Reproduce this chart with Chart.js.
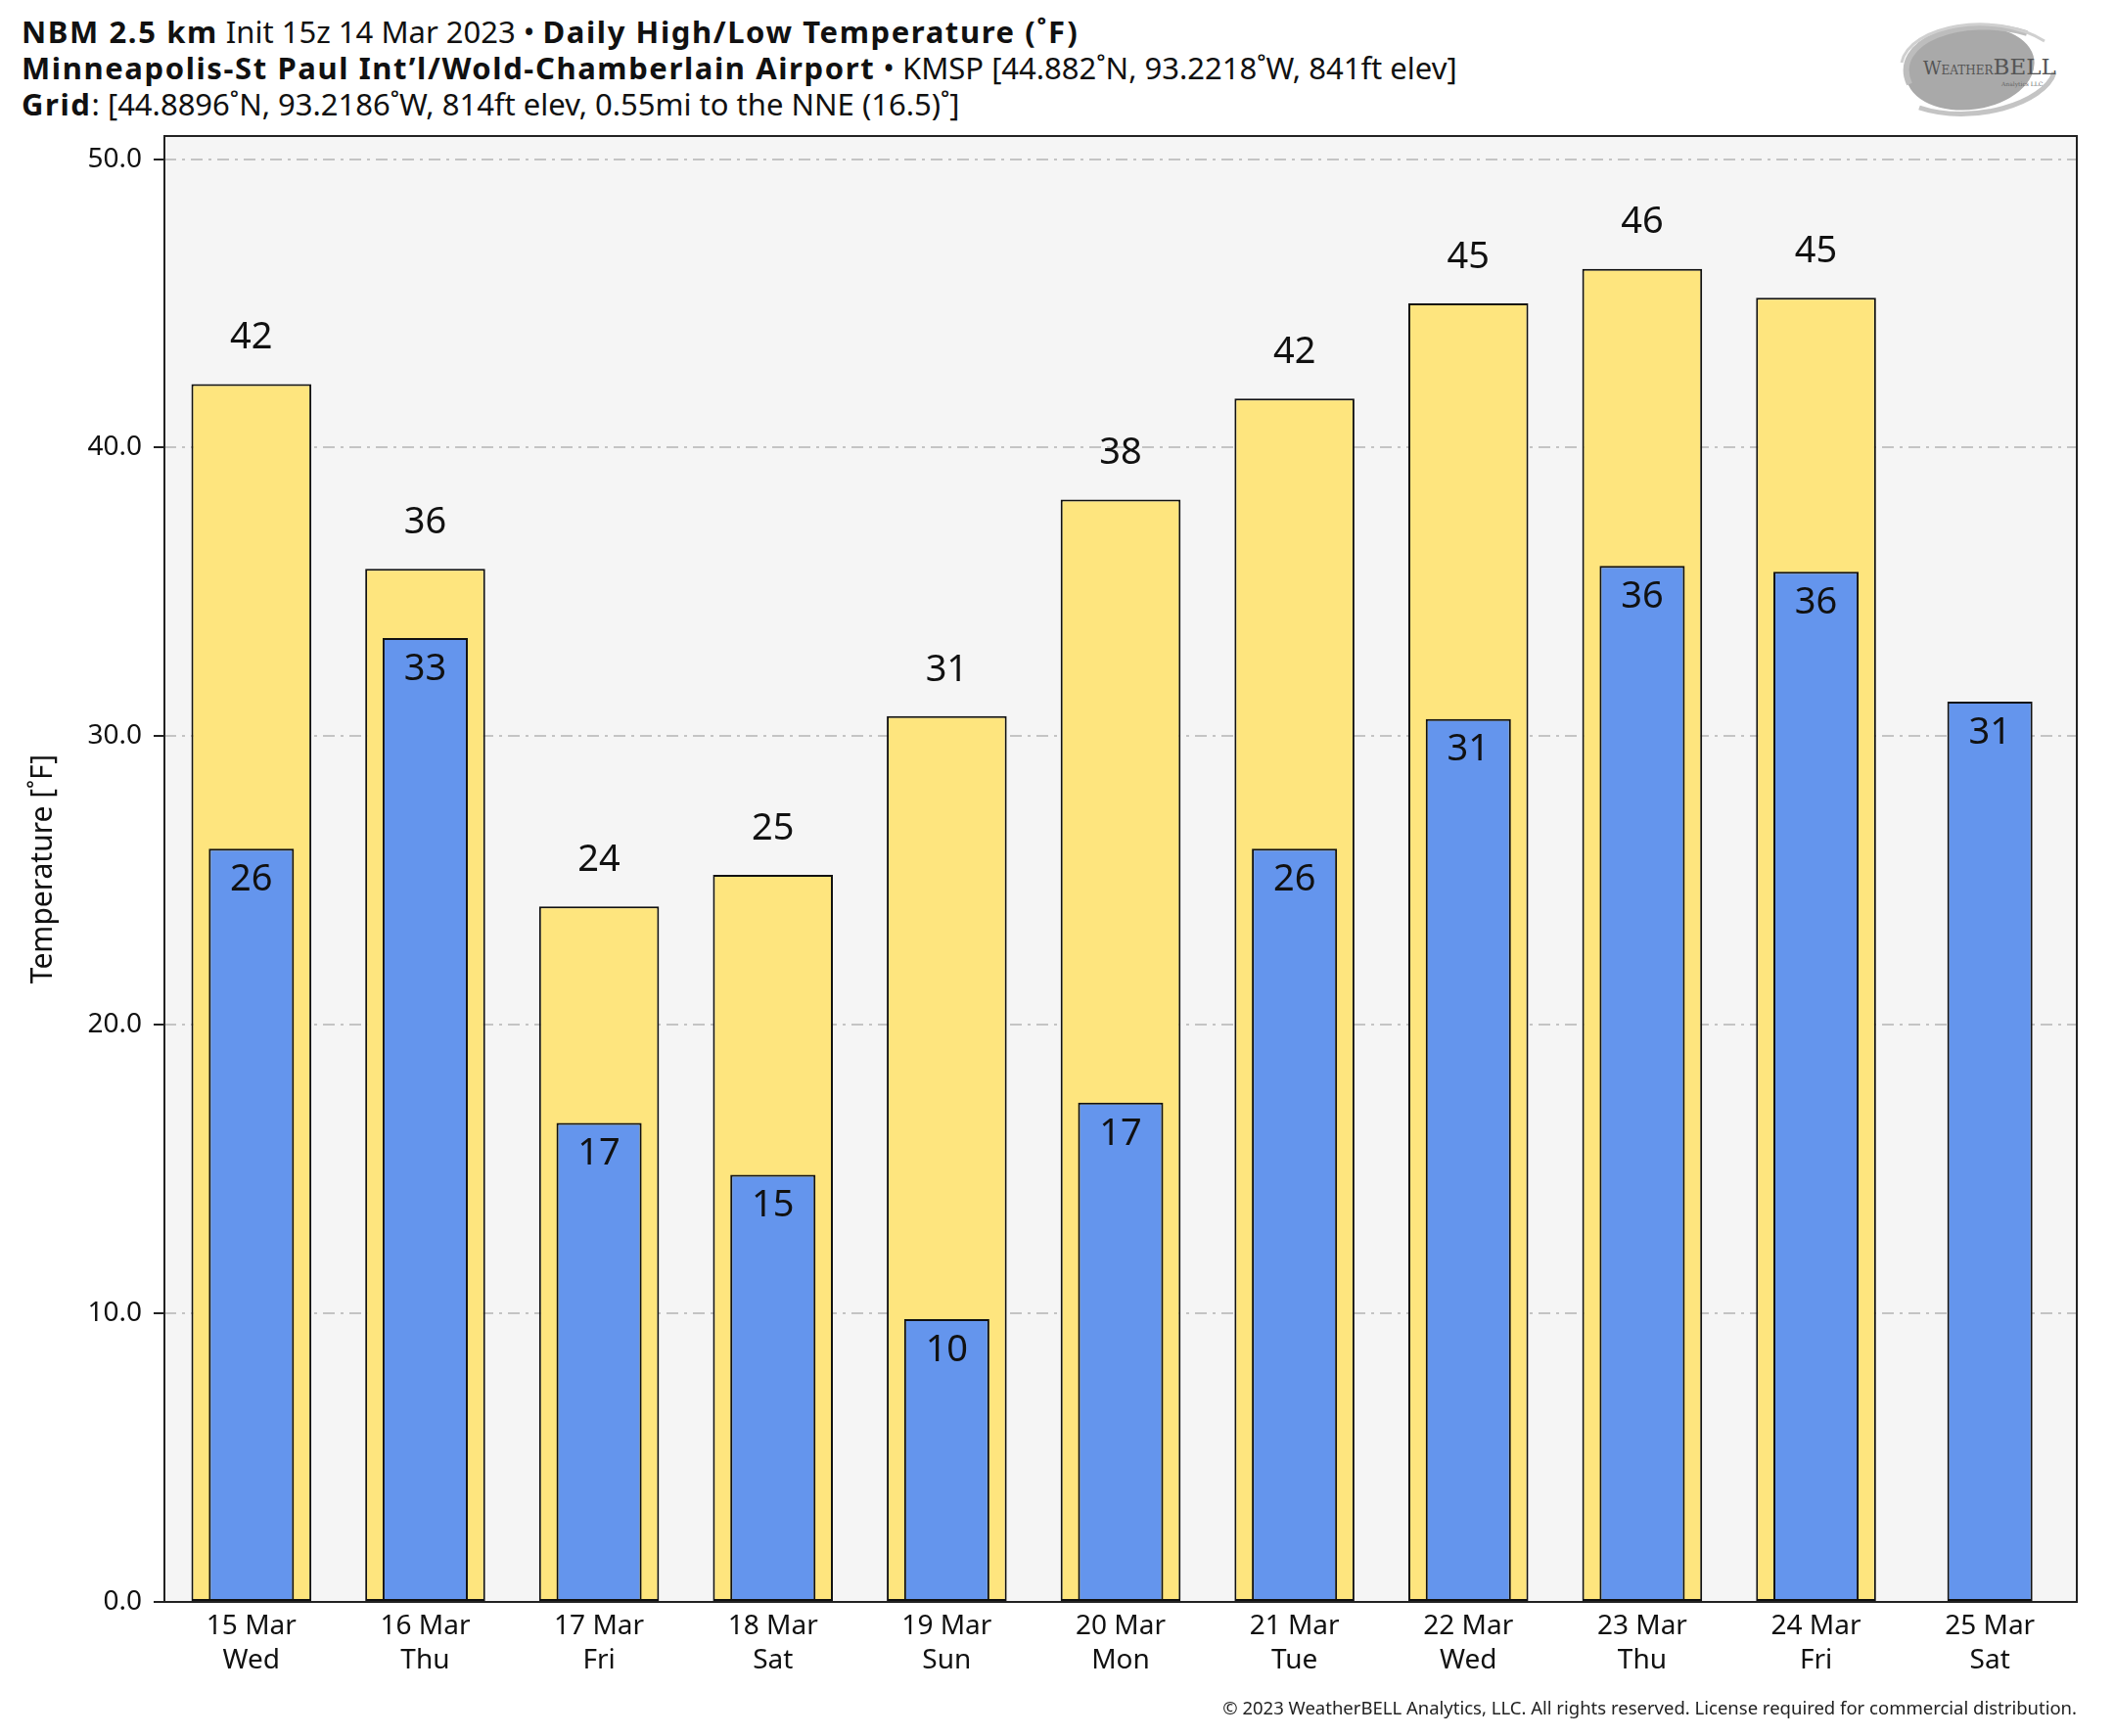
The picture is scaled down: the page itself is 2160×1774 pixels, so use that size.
<!DOCTYPE html>
<html>
<head>
<meta charset="utf-8">
<script src="https://cdn.jsdelivr.net/npm/chart.js@4.4.1/dist/chart.umd.min.js"></script>
<style>
    body { margin: 0; background: #fff; }
    #wrap { position: relative; width: 2160px; height: 1774px; font-family: "Noto Sans", sans-serif; color: #111; }
    .line { position: absolute; left: 22px; font-size: 31px; white-space: nowrap; line-height: 1; }
    .line b { font-weight: 700; letter-spacing: 1.6px; }
    #copy { position: absolute; right: 38px; top: 1732px; font-size: 18.5px; white-space: nowrap; color: #222; }
    #logo { position: absolute; left: 1925px; top: 12px; }
</style>
</head>
<body>
<div id="wrap">
    <div class="line" style="top:17px"><b>NBM 2.5 km</b> Init 15z 14 Mar 2023 &bull; <b>Daily High/Low Temperature (˚F)</b></div>
    <div class="line" style="top:54px"><b>Minneapolis-St Paul Int’l/Wold-Chamberlain Airport</b> &bull; KMSP [44.882˚N, 93.2218˚W, 841ft elev]</div>
    <div class="line" style="top:91px"><b>Grid</b>: [44.8896˚N, 93.2186˚W, 814ft elev, 0.55mi to the NNE (16.5)˚]</div>

    <svg id="logo" width="205" height="112" viewBox="0 0 205 112">
        <ellipse cx="88" cy="58" rx="66" ry="42" fill="#a9a9a9" transform="rotate(-8 88 58)"/>
        <path d="M26 74 C 6 30, 80 2, 146 22" stroke="#bdbdbd" stroke-width="6" fill="none"/>
        <path d="M36 98 C 90 116, 164 94, 174 62" stroke="#c4c4c4" stroke-width="5" fill="none"/>
        <path d="M18 52 C 26 14, 112 -2, 164 30" stroke="#d0d0d0" stroke-width="3" fill="none"/>
        <text x="40" y="64" font-family="DejaVu Serif, serif" font-size="18" fill="#555">W<tspan font-size="12">EATHER</tspan><tspan font-size="23">BELL</tspan></text>
        <text x="120" y="76" font-family="DejaVu Serif, serif" font-size="6" fill="#666">Analytics LLC</text>
    </svg>

    <canvas id="chart" width="2160" height="1774" style="position:absolute;left:0;top:0"></canvas>

    <div id="copy">© 2023 WeatherBELL Analytics, LLC. All rights reserved. License required for commercial distribution.</div>
</div>

<script>
// days on the x axis
let dates = ["15 Mar", "16 Mar", "17 Mar", "18 Mar", "19 Mar", "20 Mar", "21 Mar", "22 Mar", "23 Mar", "24 Mar", "25 Mar"];
let weekdays = ["Wed", "Thu", "Fri", "Sat", "Sun", "Mon", "Tue", "Wed", "Thu", "Fri", "Sat"];

// daily high / low (F)
let highs = [42.2, 35.8, 24.1, 25.2, 30.7, 38.2, 41.7, 45.0, 46.2, 45.2, null];
let lows = [26.1, 33.4, 16.6, 14.8, 9.8, 17.3, 26.1, 30.6, 35.9, 35.7, 31.2];

let yTicks = [0, 10, 20, 30, 40, 50];

const plotBox = {
    id: "plotBox",
    beforeDraw(chart) {
        let { ctx, chartArea: a } = chart;
        ctx.save();
        ctx.fillStyle = "#f5f5f5";
        ctx.fillRect(a.left, a.top, a.right - a.left, a.bottom - a.top);
        ctx.restore();
    },
    afterDraw(chart) {
        let { ctx, chartArea: a } = chart;
        ctx.save();
        ctx.strokeStyle = "#222";
        ctx.lineWidth = 2;
        ctx.strokeRect(a.left, a.top, a.right - a.left, a.bottom - a.top);
        ctx.restore();
    }
};

const valueLabels = {
    id: "valueLabels",
    afterDatasetsDraw(chart) {
        let ctx = chart.ctx;
        ctx.save();
        ctx.font = "38px 'Noto Sans'";
        ctx.fillStyle = "#111";
        ctx.textAlign = "center";
        ctx.textBaseline = "middle";
        chart.data.datasets.forEach((ds, di) => {
            let meta = chart.getDatasetMeta(di);
            meta.data.forEach((bar, i) => {
                let v = ds.data[i];
                if (v === null) return;
                let y = ds.label === "High" ? bar.y - 47 : bar.y + 32;
                ctx.fillText(Math.round(v), bar.x, y);
            });
        });
        ctx.restore();
    }
};

new Chart(document.getElementById("chart"), {
    type: "bar",
    data: {
        labels: dates.map((d, i) => [d, weekdays[i]]),
        datasets: [
            {
                label: "Low",
                data: lows,
                backgroundColor: "#6495ed",
                borderColor: "#111",
                borderWidth: 2,
                borderSkipped: false,
                grouped: false,
                barPercentage: 0.49,
                categoryPercentage: 1,
                order: 0
            },
            {
                label: "High",
                data: highs,
                backgroundColor: "#fee57e",
                borderColor: "#111",
                borderWidth: 2,
                borderSkipped: false,
                grouped: false,
                barPercentage: 0.69,
                categoryPercentage: 1,
                order: 1
            }
        ]
    },
    options: {
        responsive: false,
        devicePixelRatio: 1,
        animation: false,
        layout: { padding: { top: 139, right: 38, left: 0, bottom: 0 } },
        plugins: {
            legend: { display: false },
            tooltip: { enabled: false }
        },
        scales: {
            x: {
                grid: { display: false, drawTicks: false },
                border: { display: false },
                ticks: {
                    color: "#111",
                    padding: 8,
                    font: { family: "Noto Sans", size: 28, lineHeight: 1.25 },
                    maxRotation: 0
                },
                afterFit: (s) => { s.height = 137; }
            },
            y: {
                min: 0,
                max: 50.8,
                afterBuildTicks: (s) => { s.ticks = yTicks.map(v => ({ value: v })); },
                grid: {
                    color: "#c4c4c4",
                    lineWidth: 2,
                    tickColor: "#222",
                    tickLength: 11,
                    tickWidth: 2,
                    tickBorderDash: []
                },
                border: { display: false, dash: [12, 6, 3, 6] },
                ticks: {
                    color: "#111",
                    padding: 12,
                    font: { family: "Noto Sans", size: 28 },
                    callback: (v) => v.toFixed(1)
                },
                title: {
                    display: true,
                    text: "Temperature [˚F]",
                    color: "#111",
                    font: { family: "Noto Sans", size: 30 },
                    padding: { top: 26, bottom: 0 }
                },
                afterFit: (s) => { s.width = 168; }
            }
        }
    },
    plugins: [plotBox, valueLabels]
});
</script>
</body>
</html>
